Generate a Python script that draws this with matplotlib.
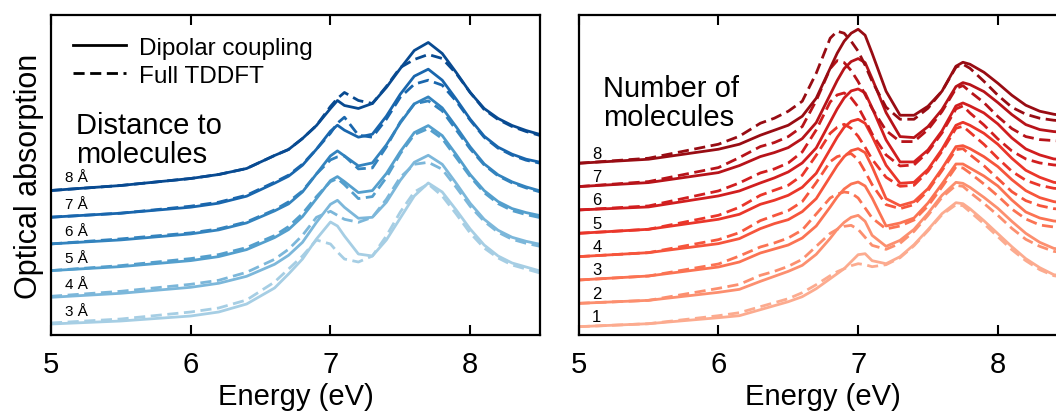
import numpy as np
import matplotlib.pyplot as plt
from matplotlib.lines import Line2D

plt.rcParams['font.family'] = ['Liberation Sans', 'DejaVu Sans']

# energy grids (eV)
energy_dist = [5.0, 5.5, 6.0, 6.2, 6.4, 6.6, 6.7, 6.8, 6.9, 7.0, 7.05, 7.1, 7.2,
               7.3, 7.4, 7.5, 7.6, 7.7, 7.8, 7.9, 8.0, 8.1, 8.2, 8.3, 8.4, 8.5]
energy_num = [5.0, 5.5, 6.0, 6.15, 6.3, 6.4, 6.5, 6.6, 6.7, 6.8, 6.85, 6.9, 6.95,
              7.0, 7.05, 7.1, 7.2, 7.3, 7.4, 7.5, 7.6, 7.7, 7.75, 7.8, 7.9, 8.0,
              8.1, 8.2, 8.3, 8.4, 8.5]

# distance to molecules, 3..8 A : dipolar coupling / full TDDFT
dist_labels = ['3 Å', '4 Å', '5 Å', '6 Å', '7 Å', '8 Å']
dist_dipole = [
    [0, 3, 8, 12, 20, 36, 50, 65, 85, 102, 98, 88, 70, 68, 84, 106, 128, 141, 132, 114, 95, 79, 68, 61, 57, 53],
    [0, 4, 10, 14, 21, 33, 42, 55, 75, 93, 97, 90, 79, 80, 95, 117, 135, 142, 133, 114, 94, 78, 67, 60, 56, 53],
    [0, 4, 10, 14, 21, 33, 41, 54, 72, 90, 94, 89, 78, 80, 97, 119, 138, 145, 135, 116, 96, 80, 69, 62, 58, 55],
    [0, 4, 10, 14, 21, 33, 40, 52, 70, 88, 93, 88, 78, 81, 99, 121, 140, 147, 136, 117, 97, 80, 69, 62, 57, 53],
    [0, 4, 10, 14, 21, 34, 41, 52, 68, 86, 92, 87, 80, 83, 101, 123, 141, 148, 137, 118, 98, 81, 70, 63, 58, 55],
    [0, 5, 12, 16, 22, 35, 41, 52, 65, 82, 90, 85, 82, 87, 103, 122, 140, 148, 137, 118, 98, 82, 72, 65, 60, 56],
]
dist_tddft = [
    [1, 5, 12, 16, 24, 42, 55, 68, 84, 80, 72, 65, 62, 68, 88, 112, 132, 140, 128, 110, 91, 76, 66, 59, 55, 51],
    [1, 6, 13, 17, 25, 38, 48, 62, 80, 86, 82, 78, 75, 80, 98, 120, 133, 135, 128, 110, 91, 76, 65, 58, 54, 51],
    [0, 5, 12, 16, 23, 35, 44, 57, 74, 89, 92, 86, 72, 74, 93, 117, 136, 142, 132, 113, 94, 78, 67, 60, 56, 53],
    [0, 5, 11, 15, 22, 34, 42, 53, 70, 84, 87, 88, 75, 76, 97, 122, 140, 143, 133, 114, 95, 79, 68, 61, 56, 52],
    [0, 4, 11, 15, 22, 35, 42, 53, 68, 84, 94, 100, 82, 80, 98, 120, 133, 137, 132, 116, 97, 80, 69, 62, 57, 54],
    [0, 5, 12, 16, 22, 35, 41, 52, 65, 84, 92, 98, 90, 87, 104, 123, 131, 136, 132, 117, 98, 81, 71, 64, 59, 55],
]

# number of molecules, 1..8
num_labels = ['1', '2', '3', '4', '5', '6', '7', '8']
num_dipole = [
    [0, 3, 9, 11, 17, 21, 25, 30, 38, 48, 53, 58, 65, 72, 73, 66, 63, 70, 82, 97, 113, 124, 123, 118, 106, 93, 80, 68, 59, 52, 50],
    [0, 3, 11, 14, 22, 27, 32, 38, 49, 65, 74, 81, 86, 88, 82, 68, 57, 63, 74, 90, 108, 121, 120, 116, 106, 95, 82, 70, 61, 55, 53],
    [0, 4, 13, 18, 27, 31, 35, 42, 54, 73, 83, 91, 96, 98, 94, 82, 54, 57, 62, 77, 96, 116, 116, 112, 104, 94, 80, 68, 62, 59, 58],
    [0, 4, 13, 18, 28, 33, 37, 45, 58, 80, 91, 100, 106, 108, 104, 90, 58, 51, 55, 68, 88, 110, 111, 108, 100, 90, 77, 66, 59, 55, 53],
    [0, 4, 14, 19, 29, 33, 38, 46, 60, 84, 96, 106, 112, 114, 110, 97, 68, 50, 51, 64, 84, 108, 111, 108, 100, 89, 75, 63, 56, 51, 49],
    [0, 3, 14, 19, 27, 32, 38, 47, 62, 88, 101, 112, 119, 121, 117, 102, 70, 48, 48, 60, 79, 104, 107, 104, 97, 86, 72, 61, 55, 51, 50],
    [0, 4, 14, 21, 30, 34, 39, 48, 64, 92, 106, 118, 125, 128, 124, 108, 74, 50, 49, 60, 77, 100, 104, 102, 95, 84, 72, 62, 57, 55, 54],
    [0, 4, 14, 19, 28, 33, 38, 47, 65, 95, 110, 122, 130, 134, 128, 110, 72, 48, 48, 57, 72, 97, 101, 99, 91, 80, 68, 58, 52, 49, 47],
]
num_tddft = [
    [0, 3, 11, 14, 20, 24, 28, 34, 42, 51, 55, 58, 61, 63, 62, 60, 62, 69, 81, 96, 112, 122, 121, 115, 103, 90, 77, 66, 57, 51, 49],
    [0, 3, 15, 19, 28, 32, 37, 44, 57, 70, 74, 77, 78, 74, 66, 58, 54, 60, 72, 88, 106, 118, 117, 111, 100, 88, 75, 64, 57, 52, 50],
    [0, 4, 16, 24, 33, 37, 42, 50, 66, 82, 86, 88, 87, 82, 72, 62, 51, 54, 60, 74, 93, 113, 112, 107, 96, 84, 71, 61, 55, 53, 52],
    [0, 4, 17, 24, 36, 41, 46, 55, 74, 95, 100, 102, 103, 97, 85, 72, 52, 48, 52, 66, 86, 107, 108, 102, 91, 78, 65, 56, 51, 48, 47],
    [0, 4, 18, 26, 38, 43, 48, 58, 78, 100, 106, 109, 105, 97, 86, 74, 56, 47, 48, 62, 82, 105, 107, 101, 89, 75, 62, 53, 48, 45, 44],
    [0, 4, 19, 27, 37, 41, 47, 58, 80, 108, 115, 117, 112, 103, 90, 76, 55, 44, 45, 58, 77, 101, 104, 97, 85, 71, 59, 51, 47, 45, 44],
    [0, 5, 19, 29, 40, 44, 50, 60, 86, 118, 126, 124, 116, 105, 92, 78, 56, 45, 45, 57, 75, 98, 101, 95, 84, 70, 58, 50, 47, 46, 45],
    [0, 5, 19, 27, 40, 45, 52, 62, 90, 125, 132, 130, 122, 112, 98, 82, 56, 44, 44, 55, 72, 96, 99, 95, 82, 68, 56, 49, 45, 43, 42],
]

fig = plt.figure(figsize=(10.56, 4.14), dpi=100)
ax1 = fig.add_axes([0.0483, 0.1884, 0.4631, 0.773])
ax2 = fig.add_axes([0.548, 0.1884, 0.4631, 0.773])

blues = plt.cm.Blues(np.linspace(0.35, 0.9, len(dist_labels)))
reds = plt.cm.Reds(np.linspace(0.3, 0.9, len(num_labels)))

lw = 2.0
dash = (0, (4, 2))

for i in range(len(dist_labels)):
    off = 11 + 26.7 * i
    ax1.plot(energy_dist, np.array(dist_tddft[i]) + off, color=blues[i], lw=lw, ls=dash)
    ax1.plot(energy_dist, np.array(dist_dipole[i]) + off, color=blues[i], lw=lw)
    ax1.text(5.1, off + 13, dist_labels[i], fontsize=11, va='center', ha='left')

for i in range(len(num_labels)):
    off = 8.3 + 23.35 * i
    ax2.plot(energy_num, np.array(num_tddft[i]) + off, color=reds[i], lw=lw, ls=dash)
    ax2.plot(energy_num, np.array(num_dipole[i]) + off, color=reds[i], lw=lw)
    ax2.text(5.13, off + 10, num_labels[i], fontsize=12, va='center', ha='center')

for ax in (ax1, ax2):
    ax.set_xlim(5, 8.5)
    ax.set_ylim(0, 320)
    ax.set_xticks([5, 6, 7, 8])
    ax.set_yticks([])
    ax.tick_params(axis='x', direction='in', top=True, length=7, width=1.5,
                   labelsize=21, pad=11)
    for s in ax.spines.values():
        s.set_linewidth(1.6)
    ax.set_xlabel('Energy (eV)', fontsize=21, labelpad=3)

ax1.set_ylabel('Optical absorption', fontsize=22, labelpad=5)

handles = [Line2D([], [], color='black', lw=lw),
           Line2D([], [], color='black', lw=lw, ls=dash)]
ax1.legend(handles, ['Dipolar coupling', 'Full TDDFT'], loc='upper left',
           bbox_to_anchor=(0.0, 1.0), frameon=False, fontsize=17.5,
           handlelength=2.2, handletextpad=0.5, labelspacing=0.25)

ax1.text(0.051, 0.70, 'Distance to\nmolecules', transform=ax1.transAxes,
         fontsize=21, va='top', ha='left', linespacing=1.05)
ax2.text(0.05, 0.815, 'Number of\nmolecules', transform=ax2.transAxes,
         fontsize=21, va='top', ha='left', linespacing=1.05)

fig.savefig('out.png', dpi=100)
